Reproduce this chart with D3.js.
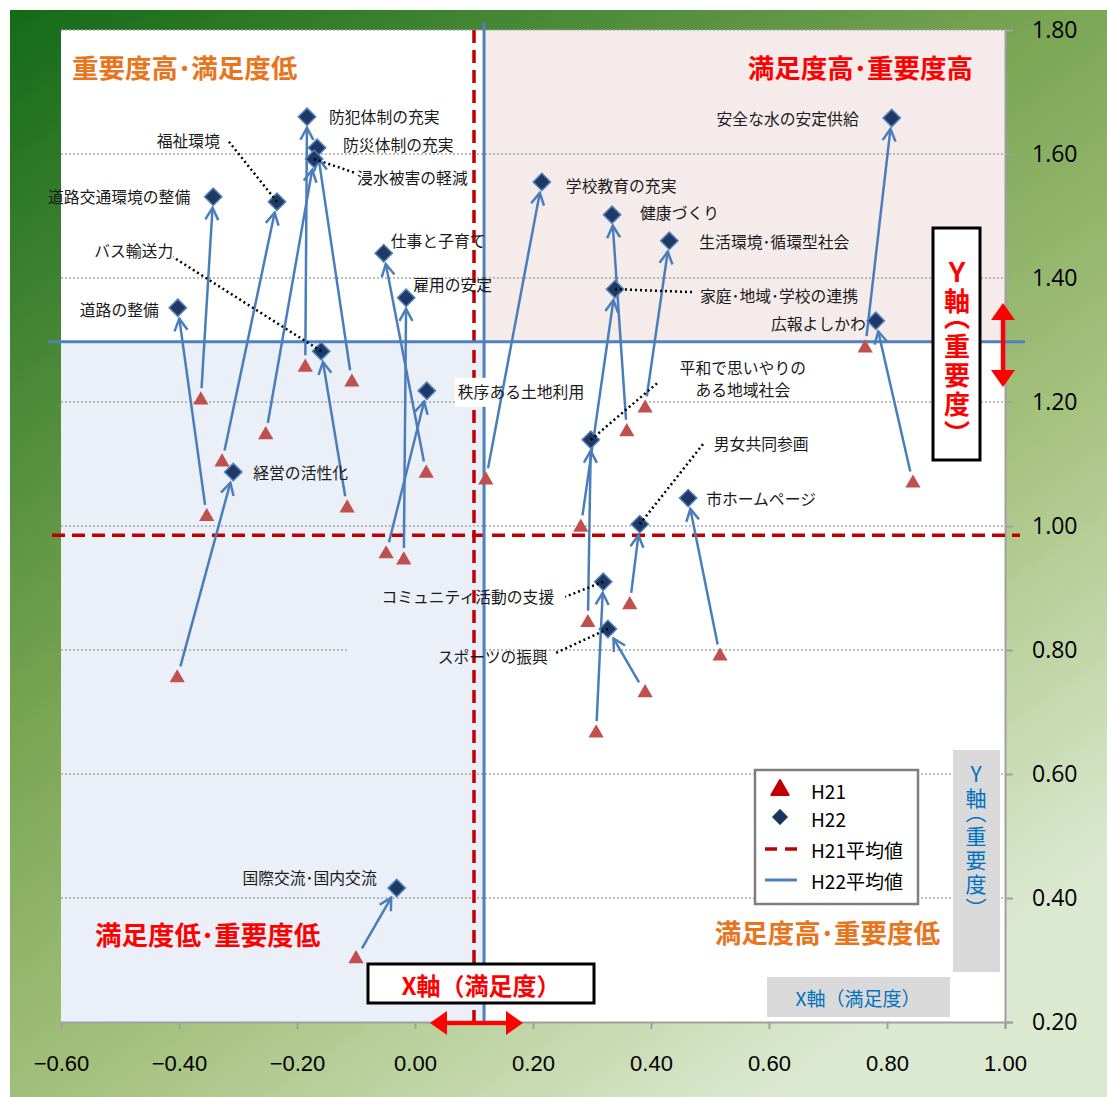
<!DOCTYPE html>
<html><head><meta charset="utf-8">
<script src="https://cdn.jsdelivr.net/npm/d3@7"></script>
<style>body{margin:0;background:#fff} svg{display:block}</style>
</head><body>
<svg id="chart" width="1107" height="1097"></svg>
<script>
// ---------- data ----------
const items = ["防犯体制の充実","防災体制の充実","浸水被害の軽減","福祉環境","道路交通環境の整備","道路の整備","経営の活性化","バス輸送力","秩序ある土地利用","雇用の安定","仕事と子育て","国際交流･国内交流","学校教育の充実","健康づくり","生活環境･循環型社会","家庭･地域･学校の連携","平和で思いやりのある地域社会","男女共同参画","市ホームページ","コミュニティ活動の支援","スポーツの振興","安全な水の安定供給","広報よしかわ"];
const h21X = [-0.186,-0.107,-0.253,-0.327,-0.363,-0.353,-0.403,-0.115,-0.049,-0.019,0.019,-0.100,0.120,0.359,0.390,0.281,0.293,0.364,0.517,0.307,0.390,0.763,0.844];
const h21Y = [1.256,1.232,1.147,1.103,1.203,1.015,0.755,1.029,0.955,0.945,1.085,0.302,1.074,1.152,1.190,0.998,0.844,0.873,0.790,0.666,0.731,1.287,1.069];
const h22X = [-0.183,-0.166,-0.171,-0.234,-0.342,-0.402,-0.308,-0.159,0.020,-0.015,-0.053,-0.031,0.215,0.334,0.431,0.339,0.298,0.381,0.463,0.319,0.327,0.808,0.781];
const h22Y = [1.660,1.610,1.592,1.523,1.531,1.352,1.087,1.282,1.218,1.368,1.440,0.416,1.555,1.502,1.460,1.382,1.139,1.003,1.045,0.910,0.834,1.658,1.331];
const h21Avg = [0.100, 0.985];   // [x, y]
const h22Avg = [0.117, 1.297];
const xTicks = [-0.6,-0.4,-0.2,0.0,0.2,0.4,0.6,0.8,1.0];
const yTicks = [0.2,0.4,0.6,0.8,1.0,1.2,1.4,1.6,1.8];
const legendLabels = ["H21","H22","H21平均値","H22平均値"];
const quadTitles = ["重要度高･満足度低","満足度高･重要度高","満足度低･重要度低","満足度高･重要度低"];

// ---------- layout (label offsets in px relative to H22 point) ----------
const labelLayout = [
 {a:"start",dx:22,dy:0},
 {a:"start",dx:26,dy:-3},
 {a:"start",dx:43,dy:19,lead:[41,14]},
 {a:"end",dx:-57,dy:-61,lead:[-48,-60]},
 {a:"end",dx:-23,dy:0},
 {a:"end",dx:-19,dy:2},
 {a:"start",dx:20,dy:0},
 {a:"end",dx:-148,dy:-101,lead:[-148,-94]},
 {a:"start",dx:31,dy:1,box:[-3,-14,188,29]},
 {a:"start",dx:7,dy:-13},
 {a:"start",dx:7,dy:-13},
 {a:"end",dx:-20,dy:-11},
 {a:"start",dx:24,dy:4},
 {a:"start",dx:28,dy:-2},
 {a:"start",dx:30,dy:1},
 {a:"start",dx:85,dy:6,lead:[78,3]},
 {a:"middle",dx:152,dy:-72,lines:["平和で思いやりの","ある地域社会"],lead:[68,-58]},
 {a:"start",dx:74,dy:-81,lead:[64,-81]},
 {a:"start",dx:18,dy:0},
 {a:"end",dx:-49,dy:15,lead:[-38,15]},
 {a:"end",dx:-60,dy:28,lead:[-52,24]},
 {a:"end",dx:-33,dy:0},
 {a:"end",dx:-10,dy:3}
];

const JP = "'Noto Sans CJK JP','Noto Sans',sans-serif";
const svg = d3.select("#chart");
const x = d3.scaleLinear().domain([-0.6,1.0]).range([61,1005]);
const y = d3.scaleLinear().domain([0.2,1.8]).range([1022,30]);
const [X0,X1] = x.range(); const [Y1,Y0] = y.range();

// ---------- defs ----------
const defs = svg.append("defs");
const g = defs.append("linearGradient").attr("id","bg").attr("x1",0).attr("y1",0).attr("x2",0.7).attr("y2",1);
[[0,"#146A18"],[0.45,"#79A554"],[0.7,"#A6C27F"],[1,"#DCE9D1"]].forEach(s=>g.append("stop").attr("offset",s[0]).attr("stop-color",s[1]));
defs.append("marker").attr("id","ah").attr("markerUnits","userSpaceOnUse")
  .attr("viewBox","-14 -9 16 18").attr("refX",0).attr("refY",0)
  .attr("markerWidth",16).attr("markerHeight",18).attr("orient","auto")
  .append("path").attr("d","M-12,-6.5L0,0L-12,6.5").attr("fill","none")
  .attr("stroke","#4A7EBB").attr("stroke-width",2.5);

// ---------- background ----------
svg.append("rect").attr("x",10).attr("y",10).attr("width",1097).attr("height",1087).attr("fill","url(#bg)");
svg.append("rect").attr("x",X0).attr("y",Y0).attr("width",X1-X0).attr("height",Y1-Y0).attr("fill","#fff");
svg.append("rect").attr("x",x(h22Avg[0])).attr("y",Y0).attr("width",X1-x(h22Avg[0])).attr("height",y(h22Avg[1])-Y0).attr("fill","#F5EBEB");
svg.append("rect").attr("x",X0).attr("y",y(h22Avg[1])).attr("width",x(h22Avg[0])-X0+2).attr("height",Y1-y(h22Avg[1])).attr("fill","#EBF0F8");

// gridlines
svg.append("g").selectAll("line").data(yTicks.filter(t=>t>0.2)).join("line")
  .attr("x1",X0).attr("x2",X1).attr("y1",d=>y(d)).attr("y2",d=>y(d))
  .attr("stroke","#A6A6A6").attr("stroke-width",1.5).attr("stroke-dasharray","2,2");
// small cover on 0.80 gridline (as in original)
svg.append("rect").attr("x",x(-0.115)).attr("y",y(0.8)-2).attr("width",x(h22Avg[0])-x(-0.115)).attr("height",4).attr("fill","#EBF0F8");

// axes
const xa = svg.append("g").attr("transform",`translate(0,${Y1})`)
  .call(d3.axisBottom(x).tickValues(xTicks).tickSize(7).tickPadding(26).tickFormat(d3.format(".2f")));
xa.select(".domain").attr("stroke","#A0A0A0").attr("stroke-width",2);
xa.selectAll(".tick line").attr("stroke","#A0A0A0").attr("stroke-width",2);
xa.selectAll("text").attr("font-family","'Liberation Sans',Arial,sans-serif").attr("font-size",22).attr("fill","#000");
const ya = svg.append("g").attr("transform",`translate(${X1},0)`)
  .call(d3.axisRight(y).tickValues(yTicks).tickSize(8).tickPadding(19).tickFormat(d3.format(".2f")));
ya.select(".domain").attr("stroke","#A0A0A0").attr("stroke-width",2);
ya.selectAll(".tick line").attr("stroke","#A0A0A0").attr("stroke-width",2);
ya.selectAll("text").attr("font-family","'Open Sans',sans-serif").attr("font-size",23).attr("fill","#000");

// mean lines
svg.append("line").attr("x1",x(h21Avg[0])).attr("x2",x(h21Avg[0])).attr("y1",Y0).attr("y2",Y1)
  .attr("stroke","#C00000").attr("stroke-width",3.5).attr("stroke-dasharray","13,7");
svg.append("line").attr("x1",X0-9).attr("x2",X1+15).attr("y1",y(h21Avg[1])).attr("y2",y(h21Avg[1]))
  .attr("stroke","#C00000").attr("stroke-width",3.5).attr("stroke-dasharray","13,7");
svg.append("line").attr("x1",x(h22Avg[0])).attr("x2",x(h22Avg[0])).attr("y1",Y0-8).attr("y2",Y1)
  .attr("stroke","#4F81BD").attr("stroke-width",3);
svg.append("line").attr("x1",X0-13).attr("x2",X1+20).attr("y1",y(h22Avg[1])).attr("y2",y(h22Avg[1]))
  .attr("stroke","#4F81BD").attr("stroke-width",3);

// label boxes (white behind some labels)
const pts = items.map((n,i)=>({n, i, x1:x(h21X[i]), y1:y(h21Y[i]), x2:x(h22X[i]), y2:y(h22Y[i]), L:labelLayout[i]}));
svg.append("g").selectAll("rect").data(pts.filter(p=>p.L.box)).join("rect")
  .attr("x",p=>p.x2+p.L.dx+p.L.box[0]).attr("y",p=>p.y2+p.L.dy+p.L.box[1])
  .attr("width",p=>p.L.box[2]).attr("height",p=>p.L.box[3]).attr("fill","#fff");

// arrows
svg.append("g").selectAll("line").data(pts).join("line")
  .each(function(p){
    const dx=p.x2-p.x1, dy=p.y2-p.y1, len=Math.hypot(dx,dy), ux=dx/len, uy=dy/len;
    d3.select(this).attr("x1",p.x1+ux*12).attr("y1",p.y1+uy*12).attr("x2",p.x2-ux*11).attr("y2",p.y2-uy*11);
  })
  .attr("stroke","#4A7EBB").attr("stroke-width",2.5).attr("marker-end","url(#ah)");

// H21 triangles
svg.append("g").selectAll("path").data(pts).join("path")
  .attr("d",d3.symbol(d3.symbolTriangle,100)).attr("transform",p=>`translate(${p.x1},${p.y1})`)
  .attr("fill","#C0504D");
// H22 diamonds
svg.append("g").selectAll("path").data(pts).join("path")
  .attr("d",d3.symbol(d3.symbolSquare,150)).attr("transform",p=>`translate(${p.x2},${p.y2}) rotate(45)`)
  .attr("fill","#1F3864").attr("stroke","#4F81BD").attr("stroke-width",1.5);

// leader lines
svg.append("g").selectAll("line").data(pts.filter(p=>p.L.lead)).join("line")
  .attr("x1",p=>p.x2).attr("y1",p=>p.y2).attr("x2",p=>p.x2+p.L.lead[0]).attr("y2",p=>p.y2+p.L.lead[1])
  .attr("stroke","#000").attr("stroke-width",2.5).attr("stroke-dasharray","2,3");

// labels
const lg = svg.append("g").attr("font-family",JP).attr("fill","#1a1a1a");
pts.forEach(p=>{
  const L=p.L, lines=L.lines||[p.n];
  lines.forEach((t,k)=>{
    lg.append("text").attr("x",p.x2+L.dx).attr("y",p.y2+L.dy+k*22)
      .attr("text-anchor",L.a).attr("dominant-baseline","central")
      .attr("font-size",15.8).text(t);
  });
});

// quadrant titles
const qt = svg.append("g").attr("font-family",JP).attr("font-weight",700).attr("font-size",26.5).attr("dominant-baseline","central");
qt.append("text").attr("x",72).attr("y",66).attr("fill","#E8741C").text(quadTitles[0]);
qt.append("text").attr("x",973).attr("y",66).attr("text-anchor","end").attr("fill","#FF0000").text(quadTitles[1]);
qt.append("text").attr("x",95).attr("y",933).attr("fill","#FF0000").text(quadTitles[2]);
qt.append("text").attr("x",940).attr("y",931).attr("text-anchor","end").attr("fill","#E8741C").text(quadTitles[3]);

// legend
const leg = svg.append("g");
leg.append("rect").attr("x",755).attr("y",770).attr("width",163).attr("height",134).attr("fill","#fff").attr("stroke","#7F7F7F").attr("stroke-width",2.5);
leg.append("path").attr("d",d3.symbol(d3.symbolTriangle,130)).attr("transform","translate(780,790)").attr("fill","#C00000").attr("stroke","#C00000").attr("stroke-width",2).attr("stroke-linejoin","round");
leg.append("path").attr("d",d3.symbol(d3.symbolSquare,110)).attr("transform","translate(780,817) rotate(45)").attr("fill","#17375E").attr("stroke","#17375E").attr("stroke-linejoin","round");
leg.append("line").attr("x1",765).attr("x2",798).attr("y1",849).attr("y2",849).attr("stroke","#C00000").attr("stroke-width",3.5).attr("stroke-dasharray","12,8");
leg.append("line").attr("x1",765).attr("x2",797).attr("y1",880).attr("y2",880).attr("stroke","#4F81BD").attr("stroke-width",3);
legendLabels.forEach((t,k)=>{
  leg.append("text").attr("x",811).attr("y",[790,818,849,880][k]).attr("dominant-baseline","central")
    .attr("font-family",JP).attr("font-size",19).attr("fill","#000").text(t);
});

// red Y axis box (vertical text)
svg.append("rect").attr("x",933).attr("y",228).attr("width",47).attr("height",232).attr("fill","#fff").attr("stroke","#000").attr("stroke-width",3);
svg.append("text").attr("x",957).attr("y",259)
  .style("writing-mode","vertical-rl").style("text-orientation","upright")
  .style("font-feature-settings","'vhal' 1").style("letter-spacing","3px")
  .attr("font-family",JP).attr("font-weight",700).attr("font-size",26).attr("fill","#FF0000")
  .text("Ｙ軸（重要度）");

// red X axis box
svg.append("rect").attr("x",368).attr("y",964).attr("width",226).attr("height",39).attr("fill","#fff").attr("stroke","#000").attr("stroke-width",3);
svg.append("text").attr("x",481).attr("y",984).attr("text-anchor","middle").attr("dominant-baseline","central")
  .attr("font-family",JP).attr("font-weight",700).attr("font-size",24).attr("fill","#FF0000").text("X軸（満足度）");

// red double arrows
function dblArrow(x1,y1,x2,y2){
  const a=Math.atan2(y2-y1,x2-x1)*180/Math.PI, len=Math.hypot(x2-x1,y2-y1);
  const gg=svg.append("g").attr("transform",`translate(${x1},${y1}) rotate(${a})`);
  gg.append("rect").attr("x",14).attr("y",-2.2).attr("width",len-28).attr("height",4.4).attr("fill","#FF0000");
  gg.append("path").attr("d",`M0,0L17,-12L17,12Z`).attr("fill","#FF0000");
  gg.append("path").attr("d",`M${len},0L${len-17},-12L${len-17},12Z`).attr("fill","#FF0000");
}
dblArrow(1003,303,1003,387);
dblArrow(430,1023,523,1023);

// gray boxes
svg.append("rect").attr("x",953).attr("y",750).attr("width",47).attr("height",222).attr("fill","#D9D9D9");
svg.append("text").attr("x",976).attr("y",764)
  .style("writing-mode","vertical-rl").style("text-orientation","upright")
  .style("font-feature-settings","'vhal' 1").style("letter-spacing","3px")
  .attr("font-family",JP).attr("font-size",21).attr("fill","#0070C0")
  .text("Y軸（重要度）");
svg.append("rect").attr("x",767).attr("y",977).attr("width",183).attr("height",40).attr("fill","#D9D9D9");
svg.append("text").attr("x",858).attr("y",997).attr("text-anchor","middle").attr("dominant-baseline","central")
  .attr("font-family",JP).attr("font-size",19).attr("fill","#0070C0").text("X軸（満足度）");
</script>
</body></html>
